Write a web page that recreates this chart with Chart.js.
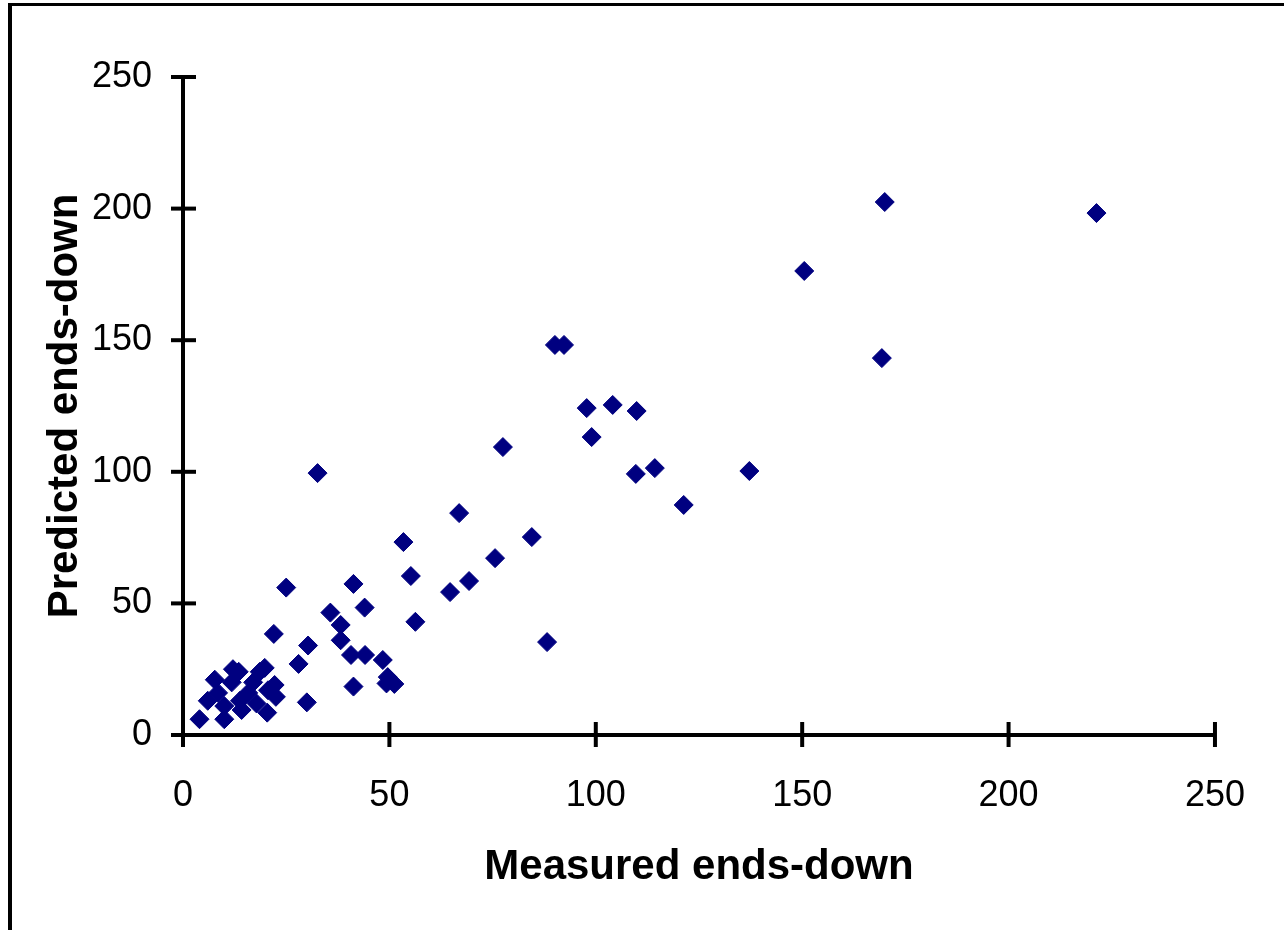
<!DOCTYPE html>
<html>
<head>
<meta charset="utf-8">
<script src="https://cdn.jsdelivr.net/npm/chart.js@4/dist/chart.umd.min.js"></script>
<style>
  html, body { margin: 0; padding: 0; background: #fff; overflow: hidden; }
  #frame {
    position: absolute; left: 8px; top: 3px; width: 1300px; height: 960px;
    border-top: 3px solid #000; border-left: 4px solid #000;
  }
  canvas { position: absolute; left: 0; top: 0; }
</style>
</head>
<body>
<div id="frame"></div>
<canvas id="chart" width="1284" height="930"></canvas>
<script>
// Measured vs predicted ends-down
const measured = [
  4, 6, 7.7, 8.5, 10, 10, 11.8, 12.1, 13.5, 13.8, 14.2, 15.8, 17, 17.8, 18.6, 19.8, 20.6, 22.2, 20.4, 22.5, 22, 25,
  28, 30.3, 30, 32.6, 35.7, 38.2, 38.2, 40.7, 41.3, 41.3, 44, 44.1, 48.4, 49.6, 49.3, 51.2,
  53.4, 55.2, 56.3, 64.7, 66.9, 69.3, 75.6, 77.5, 84.5, 88.2, 90.1, 92.3, 97.8, 99, 104.1,
  109.7, 109.9, 114.3, 121.3, 137.2, 150.5, 169.3, 170, 221.3
];
const predicted = [
  6, 13, 21, 16, 6, 11, 20, 25, 24, 13, 9.5, 16, 20, 12, 24, 25.5, 17, 19, 8.5, 14.5, 38.4, 56,
  27, 34, 12.4, 99.5, 46.5, 41.8, 36, 30.4, 18.4, 57.4, 48.4, 30.4, 28.5, 22, 19.6, 19.4,
  73.3, 60.4, 43, 54.3, 84.3, 58.5, 67.2, 109.4, 75.2, 35.3, 148.2, 148.2, 124.2, 113.2, 125.4,
  99.2, 123.1, 101.4, 87.4, 100.3, 176.3, 143.2, 202.5, 198.3
];
const tickValues = [0, 50, 100, 150, 200, 250];

const points = measured.map((x, i) => ({ x: x, y: predicted[i] }));
const fontFamily = '"Liberation Sans", Arial, sans-serif';

// ticks that cross the axis line, like the original spreadsheet chart
const crossTicks = {
  id: 'crossTicks',
  beforeDatasetsDraw(chart) {
    const ctx = chart.ctx;
    const xs = chart.scales.x;
    const ys = chart.scales.y;
    const area = chart.chartArea;
    ctx.save();
    ctx.strokeStyle = '#000';
    ctx.lineWidth = 4;
    tickValues.forEach(v => {
      const px = xs.getPixelForValue(v);
      ctx.beginPath();
      ctx.moveTo(px, area.bottom - 13);
      ctx.lineTo(px, area.bottom + 12);
      ctx.stroke();
      const py = ys.getPixelForValue(v);
      ctx.beginPath();
      ctx.moveTo(area.left - 12, py);
      ctx.lineTo(area.left + 13, py);
      ctx.stroke();
    });
    ctx.restore();
  }
};

new Chart(document.getElementById('chart').getContext('2d'), {
  type: 'scatter',
  data: {
    datasets: [{
      data: points,
      pointStyle: 'rectRot',
      pointRadius: 9.5,
      pointBorderWidth: 1,
      backgroundColor: '#000080',
      borderColor: '#000080'
    }]
  },
  options: {
    responsive: false,
    animation: false,
    layout: { padding: { left: 20, top: 77, right: 66, bottom: 20 } },
    plugins: { legend: { display: false }, tooltip: { enabled: false } },
    scales: {
      x: {
        type: 'linear',
        min: 0,
        max: 250,
        afterBuildTicks: (scale) => { scale.ticks = tickValues.map(v => ({ value: v })); },
        afterFit: (scale) => { scale.height = 175; },
        grid: { display: false, drawTicks: false },
        border: { display: true, color: '#000', width: 4 },
        ticks: { color: '#000', padding: 39, font: { family: fontFamily, size: 36 } },
        title: {
          display: true,
          text: 'Measured ends-down',
          color: '#000',
          padding: { top: 0, bottom: 17 },
          font: { family: fontFamily, size: 42, weight: 'bold' }
        }
      },
      y: {
        type: 'linear',
        min: 0,
        max: 250,
        afterBuildTicks: (scale) => { scale.ticks = tickValues.map(v => ({ value: v })); },
        afterFit: (scale) => { scale.width = 163; },
        grid: { display: false, drawTicks: false },
        border: { display: true, color: '#000', width: 4 },
        ticks: { color: '#000', padding: 31, font: { family: fontFamily, size: 36 } },
        title: {
          display: true,
          text: 'Predicted ends-down',
          color: '#000',
          padding: { top: 20, bottom: 0 },
          font: { family: fontFamily, size: 42, weight: 'bold' }
        }
      }
    }
  },
  plugins: [crossTicks]
});
</script>
</body>
</html>
